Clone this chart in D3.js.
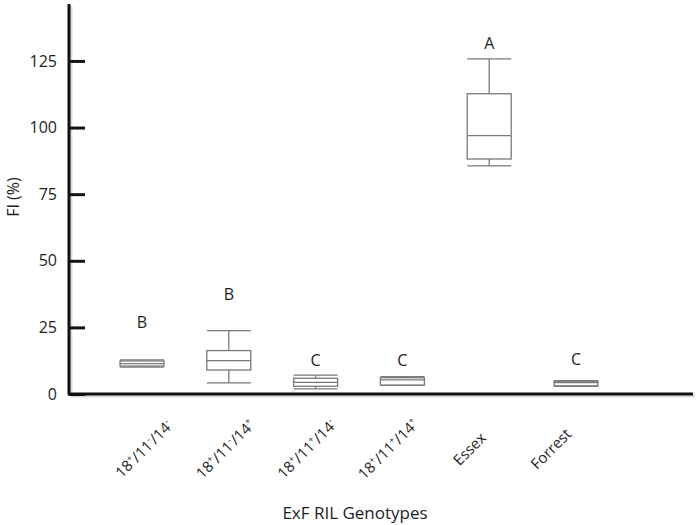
<!DOCTYPE html>
<html>
<head>
<meta charset="utf-8">
<script src="https://cdn.jsdelivr.net/npm/d3@7"></script>
<style>
  body { margin: 0; background: #fff; }
  text { font-family: "Open Sans", sans-serif; fill: #1e1e1e; }
</style>
</head>
<body>
<div id="chart"></div>
<script>
// genotype groups, label parts as [text, superscript] pairs
var genotypes = ["g1", "g2", "g3", "g4", "Essex", "Forrest"];
var genoLabels = [
  [["18", "+"], ["/11", "-"], ["/14", "-"]],
  [["18", "+"], ["/11", "-"], ["/14", "+"]],
  [["18", "+"], ["/11", "+"], ["/14", "-"]],
  [["18", "+"], ["/11", "+"], ["/14", "+"]],
  [["Essex", ""]],
  [["Forrest", ""]]
];
// box stats (FI %)
var mins    = [10.1, 4.2, 1.9, 3.2, 85.6, 2.9];
var q1s     = [10.5, 9.0, 2.9, 3.3, 88.2, 3.0];
var medians = [11.4, 12.5, 4.4, 5.3, 97.0, 4.3];
var q3s     = [12.4, 16.3, 5.9, 6.1, 112.7, 4.8];
var maxs    = [12.8, 23.8, 7.1, 6.5, 125.8, 5.0];
// significance letters and their heights
var letters   = ["B", "B", "C", "C", "A", "C"];
var letterPos = [26.7, 37.2, 12.6, 12.6, 131.7, 12.8];
var yTicks = [0, 25, 50, 75, 100, 125];

var width = 700, height = 525;
var svg = d3.select("#chart").append("svg")
    .attr("width", width).attr("height", height);

var x = d3.scalePoint().domain(genotypes).range([142, 576]);
var xLab = d3.scalePoint().domain(genotypes).range([144, 551]);
var y = d3.scaleLinear().domain([0, 146]).range([394, 5]);
var boxW = 44;

var data = genotypes.map(function(g, i) {
  return { g: g, min: mins[i], q1: q1s[i], med: medians[i], q3: q3s[i], max: maxs[i],
           letter: letters[i], lp: letterPos[i], label: genoLabels[i] };
});

// boxes
var boxes = svg.append("g").selectAll("g").data(data).enter().append("g")
    .attr("stroke", "#7a7a7a").attr("stroke-width", 1.3).attr("fill", "none");

boxes.append("line")
    .attr("x1", function(d) { return x(d.g); }).attr("x2", function(d) { return x(d.g); })
    .attr("y1", function(d) { return y(d.max); }).attr("y2", function(d) { return y(d.min); });
boxes.append("rect")
    .attr("x", function(d) { return x(d.g) - boxW / 2; })
    .attr("y", function(d) { return y(d.q3); })
    .attr("width", boxW)
    .attr("height", function(d) { return y(d.q1) - y(d.q3); })
    .attr("fill", "#fff");
boxes.append("line")
    .attr("x1", function(d) { return x(d.g) - boxW / 2; }).attr("x2", function(d) { return x(d.g) + boxW / 2; })
    .attr("y1", function(d) { return y(d.med); }).attr("y2", function(d) { return y(d.med); });
["min", "max"].forEach(function(k) {
  boxes.append("line")
    .attr("x1", function(d) { return x(d.g) - boxW / 2; }).attr("x2", function(d) { return x(d.g) + boxW / 2; })
    .attr("y1", function(d) { return y(d[k]); }).attr("y2", function(d) { return y(d[k]); });
});

// letters
svg.append("g").selectAll("text").data(data).enter().append("text")
    .attr("x", function(d) { return x(d.g); })
    .attr("y", function(d) { return y(d.lp); })
    .attr("dy", "0.35em")
    .attr("text-anchor", "middle")
    .style("font-size", "16px")
    .text(function(d) { return d.letter; });

// axis shadows
svg.append("line").attr("x1", 71).attr("x2", 71).attr("y1", 6).attr("y2", 396)
    .attr("stroke", "#bbb").attr("stroke-width", 3).attr("opacity", 0.5);
svg.append("line").attr("x1", 71).attr("x2", 695).attr("y1", 396).attr("y2", 396)
    .attr("stroke", "#bbb").attr("stroke-width", 3).attr("opacity", 0.5);

// y axis
var yAxis = d3.axisRight(y).tickValues(yTicks).tickSize(16).tickFormat("");
var yg = svg.append("g").attr("transform", "translate(69,0)").call(yAxis);
yg.select(".domain").remove();
yg.selectAll(".tick line").attr("stroke", "#111").attr("stroke-width", 3);
svg.append("g").selectAll("text").data(yTicks).enter().append("text")
    .attr("x", 57).attr("y", function(d) { return y(d); })
    .attr("dy", "0.35em").attr("text-anchor", "end")
    .style("font-size", "16px")
    .text(function(d) { return d; });

svg.append("line").attr("x1", 69).attr("x2", 69).attr("y1", 4).attr("y2", 395)
    .attr("stroke", "#111").attr("stroke-width", 3);
svg.append("line").attr("x1", 68).attr("x2", 693).attr("y1", 394).attr("y2", 394)
    .attr("stroke", "#111").attr("stroke-width", 3);

// x labels
var xl = svg.append("g").selectAll("text").data(data).enter().append("text")
    .attr("transform", function(d) { return "translate(" + xLab(d.g) + ",449) rotate(-45)"; })
    .attr("text-anchor", "middle").attr("dy", "0.35em")
    .style("font-size", "15px");
xl.each(function(d) {
  var t = d3.select(this);
  d.label.forEach(function(p) {
    t.append("tspan").text(p[0]);
    if (p[1]) t.append("tspan").attr("baseline-shift", "super").style("font-size", "9px").text(p[1]);
  });
});

// axis titles
svg.append("text").attr("x", 355).attr("y", 519).attr("text-anchor", "middle")
    .style("font-size", "17px").text("ExF RIL Genotypes");
svg.append("text").attr("transform", "translate(13,197) rotate(-90)")
    .attr("text-anchor", "middle").attr("dy", "0.35em")
    .style("font-size", "16px").text("FI (%)");
</script>
</body>
</html>
